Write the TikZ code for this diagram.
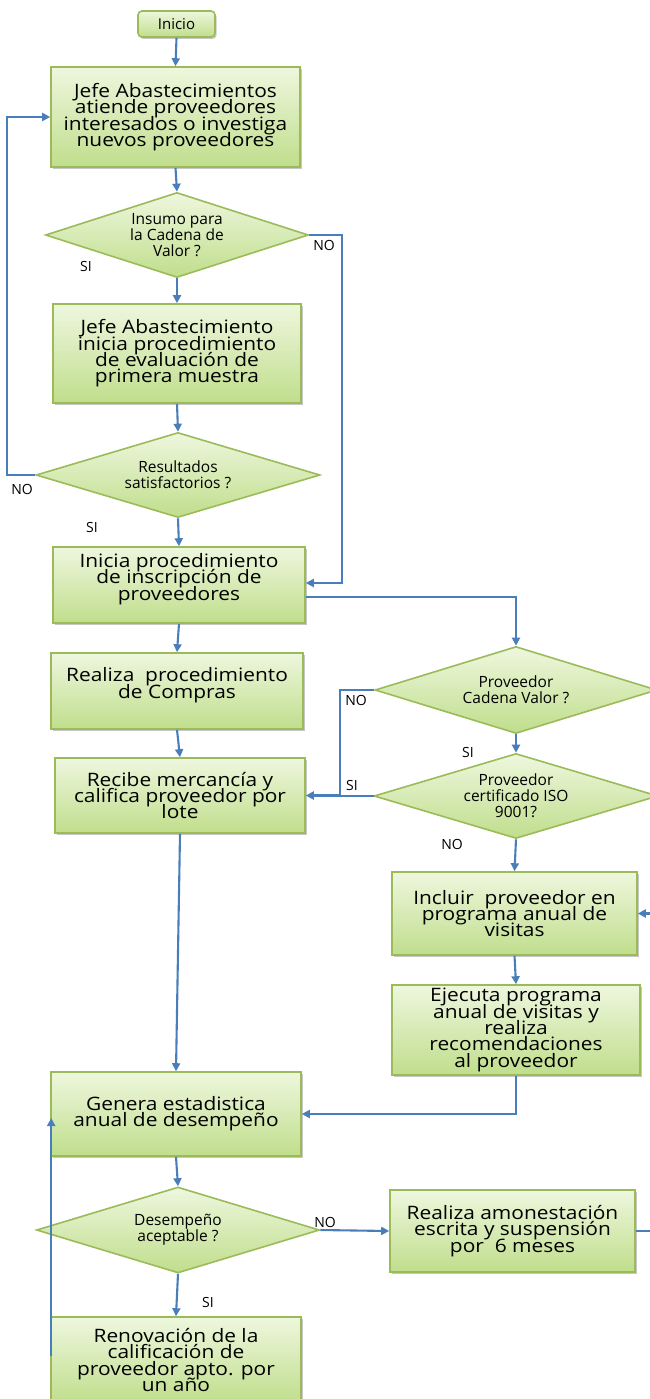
\documentclass[tikz,border=0pt]{standalone}
\usepackage{fontspec}
\setmainfont{Open Sans}
\newfontfamily\boxfont[FakeStretch=1.13]{Open Sans}
\usetikzlibrary{shapes.geometric,arrows.meta,shadows,calc}

\definecolor{gtop}{HTML}{EEF7DE}
\definecolor{gbot}{HTML}{C0DE8C}
\definecolor{gborder}{HTML}{9BBB59}
\definecolor{flow}{HTML}{4A7EBB}

% lines of a node set at a fixed distance, even when they touch
\newcommand\tightlines{\lineskiplimit=-50pt\relax\lineskip=0pt\relax}
\newcommand\boxtext{\boxfont\fontsize{18.5}{16.3}\selectfont\tightlines}
\newcommand\decisiontext{\fontsize{15.5}{16}\selectfont\tightlines}

\tikzset{
  stepbox/.style={draw=gborder, line width=1.6pt, top color=gtop, bottom color=gbot,
    inner sep=0pt, align=center, text=black,
    drop shadow={shadow xshift=1.5pt, shadow yshift=-2pt, fill=black, opacity=0.22},
    font=\boxtext},
  startbox/.style={stepbox, rounded corners=4pt,
    font=\fontsize{15}{16}\selectfont},
  decision/.style={diamond, draw=gborder, line width=1.6pt, top color=gtop, bottom color=gbot,
    inner sep=0pt, align=center, text=black, font=\decisiontext},
  flowline/.style={draw=flow, line width=2.1pt},
  flowarrow/.style={flowline, -{Triangle[width=8pt,length=8pt]}},
  answer/.style={font=\fontsize{14}{16}\selectfont, text=black, inner sep=0pt}
}

\begin{document}
\begin{tikzpicture}[x=1pt,y=-1pt]
\useasboundingbox (0,0) rectangle (650,1399);
\clip (0,0) rectangle (650,1399);
\fill[white] (0,0) rectangle (650,1399);

% main column
\node[startbox, minimum width=77, minimum height=26] (inicio) at (176.5,24) {Inicio};
\node[stepbox, minimum width=249, minimum height=100] (jefe) at (175.5,117)
  {Jefe Abastecimientos\\atiende proveedores\\interesados o investiga\\nuevos proveedores};
\node[decision, minimum width=263, minimum height=85, aspect=3.09] (insumo) at (177,235)
  {Insumo para\\la Cadena de\\Valor ?};
\node[stepbox, minimum width=248, minimum height=99] (muestra) at (177,353.5)
  {Jefe Abastecimiento\\inicia procedimiento\\de evaluación de\\primera muestra};
\node[decision, minimum width=284, minimum height=85, aspect=3.34] (result) at (178,475)
  {Resultados\\satisfactorios ?};
\node[stepbox, minimum width=252, minimum height=76] (inscr) at (179,585)
  {Inicia procedimiento\\de inscripción de\\proveedores\\\mbox{}};
\node[stepbox, minimum width=252, minimum height=76] (compras) at (177,691)
  {Realiza~ procedimiento\\de Compras\\\mbox{}};
\node[stepbox, minimum width=250, minimum height=75] (recibe) at (180,795.5)
  {Recibe mercancía y\\califica proveedor por\\lote};
\node[stepbox, minimum width=250, minimum height=84] (estad) at (176,1114)
  {Genera estadistica\\anual de desempeño};
\node[decision, minimum width=283, minimum height=86, aspect=3.29] (desemp) at (178,1230)
  {Desempeño\\aceptable ?};
\node[stepbox, minimum width=250, minimum height=86] (renov) at (176,1360)
  {Renovación de la\\calificación de\\proveedor apto. por\\un año};

% right column
\node[decision, minimum width=282, minimum height=87, aspect=3.24] (cadena) at (516,690)
  {Proveedor\\Cadena Valor ?};
\node[decision, minimum width=284, minimum height=85, aspect=3.34] (iso) at (516,796)
  {Proveedor\\certificado ISO\\9001?};
\node[stepbox, minimum width=245, minimum height=83] (incluir) at (514.5,913.5)
  {Incluir~ proveedor en\\programa anual de\\visitas};
\node[stepbox, minimum width=248, minimum height=90] (ejecuta) at (516,1030)
  {Ejecuta programa\\anual de visitas y\\realiza\\recomendaciones\\al proveedor};
\node[stepbox, minimum width=245, minimum height=82] (amon) at (512.5,1231)
  {Realiza amonestación\\escrita y suspensión\\por~ 6 meses};

% connectors
\draw[flowarrow] (inicio.south) -- (jefe.north);
\draw[flowarrow] (jefe.south) -- (insumo.north);
\draw[flowarrow] (insumo.south) -- (muestra.north);
\draw[flowarrow] (insumo.east) -- ++(33,0) |- ([yshift=2pt]inscr.east);
\draw[flowarrow] (muestra.south) -- (result.north);
\draw[flowarrow] (result.west) -- ++(-28,0) |- (jefe.west);
\draw[flowarrow] (result.south) -- (inscr.north);
\draw[flowarrow] (inscr.south) -- (compras.north);
\draw[flowarrow] ([yshift=-12pt]inscr.east) -| (cadena.north);
\draw[flowarrow] (compras.south) -- (recibe.north);
\draw[flowarrow] (cadena.west) -- ++(-34,0) |- (recibe.east);
\draw[flowarrow] (cadena.south) -- (iso.north);
\draw[flowline] (iso.west) -- (iso.west -| cadena.west) -- ++(-34,0);
\draw[flowarrow] (iso.south) -- (incluir.north);
\draw[flowarrow] (incluir.south) -- (ejecuta.north);
\draw[flowarrow] (ejecuta.south) |- (estad.east);
\draw[flowarrow] (recibe.south) -- (estad.north);
\draw[flowarrow] (estad.south) -- (desemp.north);
\draw[flowarrow] (desemp.east) -- (amon.west);
\draw[flowarrow] (amon.east) -- ++(30,0) |- (incluir.east);
\draw[flowarrow] (desemp.south) -- (renov.north);
\draw[flowarrow] ([xshift=1pt,yshift=-40pt]renov.north west) -- ([xshift=1pt,yshift=-4pt]estad.west);

% answers
\node[answer] (a1) at (324,245) {NO};
\node[answer] (a2) at (86,266) {SI};
\node[answer] (a3) at (22,489) {NO};
\node[answer] (a4) at (92,527) {SI};
\node[answer] (a5) at (356,700) {NO};
\node[answer] (a6) at (468,752) {SI};
\node[answer] (a7) at (352,785) {SI};
\node[answer] (a8) at (452,844) {NO};
\node[answer] (a9) at (325,1222) {NO};
\node[answer] (a10) at (208,1302) {SI};
\end{tikzpicture}
\end{document}
